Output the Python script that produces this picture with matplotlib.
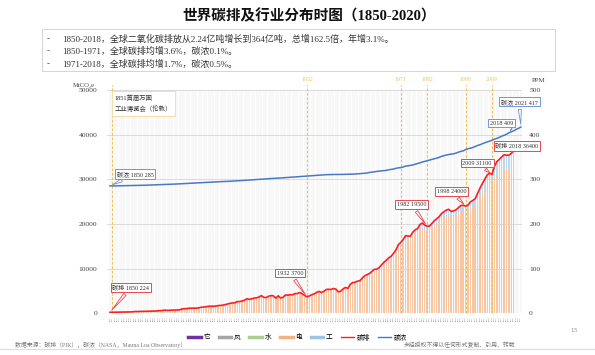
import matplotlib
matplotlib.use('Agg')
import matplotlib.pyplot as plt
from matplotlib.lines import Line2D
from matplotlib.patches import Rectangle
import numpy as np

plt.rcParams['font.family'] = ['Liberation Serif', 'Noto Sans CJK SC']
plt.rcParams['axes.unicode_minus'] = False

# ---- data ----
years = np.arange(1850, 2019)
conc_years = np.arange(1850, 2022)

# 碳排 total, MtCO2e
emission = [
    224, 226, 236, 247, 272, 276, 292, 296, 296, 313,
    380, 392, 392, 409, 434, 459, 459, 485, 485, 510,
    568, 590, 660, 698, 656, 693, 714, 726, 731, 781,
    982, 1024, 1065, 1140, 1145, 1140, 1157, 1232, 1370, 1380,
    1491, 1579, 1591, 1571, 1625, 1724, 1759, 1830, 1934, 2101,
    2231, 2319, 2376, 2622, 2622, 2757, 2938, 3265, 3111, 3232,
    3420, 3474, 3641, 3964, 3572, 3520, 3818, 3959, 3912, 3386,
    3919, 3441, 3581, 4103, 4064, 4153, 4156, 4420, 4423, 4666,
    4370, 3990, 3700, 3900, 4170, 4350, 4690, 4900, 4650, 4920,
    5330, 5380, 5330, 5550, 5420, 4800, 4950, 5450, 5800, 5580,
    6480, 6880, 6960, 7190, 7300, 7890, 8400, 8670, 8910, 9390,
    9850, 9860, 10240, 10840, 11410, 11890, 12420, 12770, 13430, 14190,
    15350, 15860, 16510, 17380, 17320, 17250, 18140, 18680, 18960, 19880,
    20220, 19720, 19500, 19530, 20140, 20740, 21200, 21640, 22350, 22720,
    23120, 23290, 22800, 22940, 23170, 23640, 24120, 24200, 24000, 24200,
    24950, 25260, 25660, 26850, 28040, 29080, 30020, 30990, 31390, 31100,
    32900, 33950, 34450, 35000, 35500, 35400, 35400, 35800, 36400,
]

# 电 (orange bars)
power = [
    224, 226, 236, 247, 272, 276, 292, 296, 296, 313,
    380, 392, 392, 409, 434, 459, 459, 485, 485, 510,
    568, 590, 660, 698, 656, 693, 714, 726, 731, 781,
    982, 1024, 1065, 1140, 1145, 1140, 1157, 1232, 1370, 1380,
    1491, 1579, 1591, 1571, 1625, 1724, 1759, 1830, 1934, 2101,
    2231, 2319, 2376, 2622, 2622, 2757, 2938, 3265, 3111, 3232,
    3420, 3474, 3641, 3964, 3572, 3520, 3818, 3959, 3912, 3386,
    3919, 3441, 3581, 4103, 4064, 4153, 4156, 4420, 4423, 4666,
    4220, 3850, 3570, 3760, 4020, 4190, 4520, 4720, 4480, 4740,
    5130, 5180, 5130, 5340, 5210, 4620, 4760, 5240, 5570, 5360,
    6220, 6600, 6670, 6890, 6990, 7560, 8050, 8300, 8530, 8990,
    9420, 9430, 9790, 10360, 10900, 11350, 11850, 12180, 12810, 13530,
    14630, 15110, 15720, 16550, 16480, 16400, 17240, 17750, 18010, 18880,
    19220, 18730, 18500, 18520, 19090, 19660, 20090, 20500, 21160, 21510,
    21860, 22010, 21540, 21660, 21870, 22300, 22740, 22800, 22600, 22780,
    23470, 23700, 24000, 25050, 26060, 26930, 27720, 28540, 28830, 28500,
    30100, 31000, 31400, 31850, 32250, 32120, 32100, 32420, 32900,
]

# 工 (blue bars, stacked on 电)
industry = [0] * 80 + [
    150, 140, 130, 140, 150, 160, 170, 180, 170, 180,
    200, 200, 200, 210, 210, 180, 190, 210, 230, 220,
    260, 280, 290, 300, 310, 330, 350, 370, 380, 400,
    430, 430, 450, 480, 510, 540, 570, 590, 620, 660,
    720, 750, 790, 830, 840, 850, 900, 930, 950, 1000,
    1000, 990, 1000, 1010, 1050, 1080, 1110, 1140, 1190, 1210,
    1260, 1280, 1260, 1280, 1300, 1340, 1380, 1400, 1400, 1420,
    1480, 1560, 1660, 1800, 1980, 2150, 2300, 2450, 2560, 2600,
    2800, 2950, 3050, 3150, 3250, 3280, 3300, 3380, 3500,
]

# 碳浓, PPM
concentration = [
    285.2, 285.2, 285.3, 285.4, 285.5, 285.6, 285.7, 285.8, 285.9, 286.0,
    286.1, 286.2, 286.3, 286.5, 286.6, 286.8, 287.0, 287.2, 287.4, 287.6,
    287.8, 288.0, 288.2, 288.4, 288.6, 288.8, 289.0, 289.3, 289.6, 289.9,
    290.2, 290.5, 290.8, 291.1, 291.4, 291.7, 292.0, 292.3, 292.6, 292.9,
    293.3, 293.6, 293.9, 294.1, 294.3, 294.5, 294.7, 294.9, 295.1, 295.4,
    295.7, 296.0, 296.3, 296.6, 296.9, 297.2, 297.6, 298.0, 298.4, 298.8,
    299.2, 299.6, 300.0, 300.4, 300.8, 301.1, 301.4, 301.7, 302.0, 302.4,
    302.8, 303.1, 303.4, 303.8, 304.2, 304.6, 305.0, 305.4, 305.8, 306.2,
    306.6, 307.0, 307.4, 307.8, 308.2, 308.6, 309.0, 309.4, 309.8, 310.1,
    310.4, 310.6, 310.7, 310.8, 310.8, 310.9, 310.9, 311.0, 311.1, 311.2,
    311.3, 311.6, 311.9, 312.3, 312.7, 313.1, 313.6, 314.1, 315.3, 316.0,
    316.9, 317.6, 318.4, 319.0, 319.6, 320.0, 321.4, 322.2, 323.0, 324.6,
    325.7, 326.3, 327.5, 329.7, 330.2, 331.1, 332.1, 333.8, 335.4, 336.8,
    338.7, 340.1, 341.5, 343.1, 344.7, 346.1, 347.4, 349.2, 351.6, 353.1,
    354.4, 355.6, 356.5, 357.1, 358.8, 360.8, 362.6, 363.7, 366.7, 368.4,
    369.7, 371.3, 373.5, 375.8, 377.5, 379.8, 381.9, 383.8, 385.6, 387.4,
    389.9, 391.7, 393.9, 396.5, 398.6, 400.8, 404.2, 406.5, 408.7, 411.7,
    414.2, 417.0,
]

event_years = [1851, 1932, 1971, 1982, 1998, 2009]
emission_marks = [1850, 1932, 1982, 1998, 2009, 2018]
emission_labels = ['碳排 1850 224', '1932 3700', '1982 19500', '1998 24000',
                   '2009 31100', '碳排 2018 36400']
conc_marks = [1850, 2018, 2021]
conc_labels = ['碳浓 1850 285', '2018 409', '碳浓 2021 417']

bullets = [
    '1850-2018，全球二氧化碳排放从2.24亿吨增长到364亿吨，总增162.5倍，年增3.1%。',
    '1850-1971，全球碳排均增3.6%，碳浓0.1%。',
    '1971-2018，全球碳排均增1.7%，碳浓0.5%。',
]

legend_names = ['它', '风', '水', '电', '工', '碳排', '碳浓']

# ---- colours ----
c_orange = '#F7C7A3'
c_blue_bar = '#BDD7EE'
c_red = '#FF1F1F'
c_blue = '#4A78C8'
c_gold = '#EFC15A'

fig = plt.figure(figsize=(5.95, 3.55), dpi=100)
ax = fig.add_axes([107 / 595, 1 - 313.3 / 355, 415.3 / 595, 223.3 / 355])
ax2 = ax.twinx()

ax.set_xlim(1848.75, 2021.6)
ax.set_ylim(0, 50000)
ax2.set_ylim(0, 500)

# year grid
for yr in conc_years:
    ax.axvline(yr, color='#e6e6e6', lw=0.35, zorder=0)
for v in range(10000, 50001, 10000):
    ax.axhline(v, color='#d6d6d6', lw=0.6, zorder=0.5)

ax.bar(years, power, width=0.6, color=c_orange, zorder=1)
ax.bar(years, industry, width=0.6, bottom=power, color=c_blue_bar, zorder=1)

# event lines
for yr in event_years:
    ax.plot([yr, yr], [0, 51200], color=c_gold, lw=0.8, ls=(0, (2.5, 1.5)),
            clip_on=False, zorder=2)
    if yr != 1851:
        ax.text(yr, 51700, str(yr), color=c_gold, fontsize=4.2, ha='center',
                va='bottom')

ax.plot(years, emission, color=c_red, lw=1.2, zorder=4)
ax2.plot(conc_years, concentration, color=c_blue, lw=1.1, zorder=4)

# callouts
def callout(axis, text, x, y, bx, by, color):
    axis.annotate(text, xy=(x, y), xytext=(bx, by), fontsize=4.4, color='#333333',
                  ha='center', va='center', zorder=6,
                  bbox=dict(boxstyle='square,pad=0.3', fc='white', ec=color, lw=0.7),
                  arrowprops=dict(arrowstyle='wedge,tail_width=0.5,shrink_factor=0.5',
                                  fc='white', ec=color, lw=0.6))

em_box = [(1858.7, 5820), (1924.9, 9020), (1975.5, 24360), (1992.3, 27270),
          (2002.8, 33650), (2019.4, 37460)]
for yr, lab, (bx, by) in zip(emission_marks, emission_labels, em_box):
    callout(ax, lab, yr, emission[yr - 1850], bx, by, '#E8474F')

conc_box = [(1860.4, 311.9), (2013.0, 426), (2020.4, 474)]
for yr, lab, (bx, by) in zip(conc_marks, conc_labels, conc_box):
    callout(ax2, lab, yr, concentration[yr - 1850], bx, by, '#7096D8')

ax.text(1852.0, 49000, '1851首届万国\n工业博览会（伦敦）', fontsize=4.6, color='#333333',
        ha='left', va='top', linespacing=1.7, zorder=6,
        bbox=dict(boxstyle='square,pad=0.5', fc='white', ec='#F3DFA8', lw=0.7))

# axes styling
for a in (ax, ax2):
    for s in a.spines.values():
        s.set_visible(False)
    a.tick_params(length=0, labelsize=5.4, colors='#444444')
ax.set_yticks(range(0, 50001, 10000))
ax2.set_yticks(range(0, 501, 100))
ax.tick_params(axis='y', pad=7)
ax2.tick_params(axis='y', pad=5)
ax.set_xticks(conc_years)
ax.set_xticklabels([str(y) for y in conc_years], rotation=90, fontsize=1.6,
                   color='#666666')
ax.tick_params(axis='x', pad=2)

ax.text(-0.055, 1.01, 'MtCO₂e', transform=ax.transAxes, fontsize=4.8,
        color='#444444', ha='center', va='bottom')
ax2.text(1.04, 1.03, 'PPM', transform=ax.transAxes, fontsize=5,
         color='#444444', ha='center', va='bottom')

# title
fig.text(0.52, 1 - 16 / 355, '世界碳排及行业分布时图（1850-2020）', fontsize=10.5,
         fontweight='bold', ha='center', va='center', color='#111111')

# bullet box
fig.patches.append(Rectangle((42 / 595, 1 - 71 / 355), 513 / 595, 42 / 355,
                             transform=fig.transFigure, fc='white', ec='#cfcfcf',
                             lw=0.6))
for i, t in enumerate(bullets):
    yy = 1 - (39 + 12.5 * i) / 355
    fig.text(48 / 595, yy, '-', fontsize=6.5, ha='center', va='center', color='#333333')
    fig.text(62 / 595, yy, t, fontsize=6.5, ha='left', va='center', color='#333333')

# legend
handles = [
    Line2D([], [], color='#7030A0', lw=2.5),
    Line2D([], [], color='#A5A5A5', lw=2.5),
    Line2D([], [], color='#A9D18E', lw=2.5),
    Line2D([], [], color='#F4B183', lw=2.5),
    Line2D([], [], color='#9DC3E6', lw=2.5),
    Line2D([], [], color=c_red, lw=1.0),
    Line2D([], [], color=c_blue, lw=1.0),
]
fig.legend(handles, legend_names, loc='center', bbox_to_anchor=(0.5, 1 - 337 / 355),
           ncol=7, frameon=False, fontsize=4.8, handlelength=1.9, columnspacing=1.3,
           handletextpad=0.4)

# footer
fig.text(15 / 595, 1 - 345 / 355, '数据来源：碳排（PIK），碳浓（NASA，Mauna Loa Observatory）',
         fontsize=4.2, color='#777777', ha='left', va='center')
fig.text(515 / 595, 1 - 345 / 355, '未经授权不得以任何形式复制、引用、转载',
         fontsize=4.2, color='#777777', ha='right', va='center')
fig.text(574 / 595, 1 - 331 / 355, '13', fontsize=5, color='#888888',
         ha='center', va='center')
fig.add_artist(Line2D([0, 1], [1 - 349 / 355, 1 - 349 / 355], color='#dddddd',
                      lw=0.8, transform=fig.transFigure))

fig.savefig('out.png', dpi=100)
